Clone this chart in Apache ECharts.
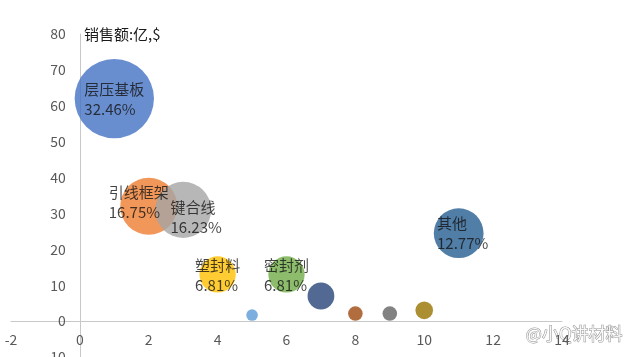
<!DOCTYPE html>
<html>
<head>
<meta charset="utf-8">
<script src="https://cdn.jsdelivr.net/npm/echarts@6/dist/echarts.min.js"></script>
<style>
html,body{margin:0;padding:0;background:#fff;}
#chart{width:635px;height:357px;}
</style>
</head>
<body>
<div id="chart"></div>
<script>
// ---- data ----
const labelNames = ['层压基板', '引线框架', '键合线', '塑封料', '', '密封剂', '', '', '', '', '其他'];
const xValues    = [1, 2, 3, 4, 5, 6, 7, 8, 9, 10, 11];
const yValues    = [62, 32, 31, 13, 1.7, 13, 7, 2.1, 2.1, 3, 24.5];
const shares     = [32.46, 16.75, 16.23, 6.81, 0.7, 6.81, 3.7, 1.1, 1.1, 1.6, 12.77];
const xTicks = [-2, 0, 2, 4, 6, 8, 10, 12, 14];
const yTicks = [-10, 0, 10, 20, 30, 40, 50, 60, 70, 80];
const yAxisName = '销售额:亿,$';

// ---- styles ----
const colors = ['#4472C4', '#ED7D31', '#A5A5A5', '#FFC000', '#5B9BD5', '#70AD47',
                '#264478', '#9E480E', '#636363', '#997300', '#255E91'];
const labelOffsets = { '引线框架': [-10, -4], '键合线': [13, 7], '其他': [4, 0] };
const FONT = '"Noto Sans CJK SC", "Noto Sans", sans-serif';
const W = 635, H = 357;
const GRID = { left: 11, right: 73, top: 34, bottom: 0 };

const data = xValues.map((x, i) => {
  const name = labelNames[i];
  const item = {
    name: name,
    value: [x, yValues[i], shares[i]],
    itemStyle: { color: colors[i], opacity: 0.8 }
  };
  if (name) {
    item.label = {
      show: true,
      position: 'inside',
      offset: labelOffsets[name] || [0, 1],
      formatter: '{a|' + name + '}\n{a|' + shares[i].toFixed(2) + '%}',
      rich: { a: { align: 'left', fontSize: 15, lineHeight: 20, color: '#141414', fontFamily: FONT } }
    };
  } else {
    item.label = { show: false };
  }
  return item;
});

const chart = echarts.init(document.getElementById('chart'), null, { renderer: 'canvas' });
chart.setOption({
  animation: false,
  backgroundColor: '#fff',
  grid: Object.assign({ containLabel: false, outerBoundsMode: 'none' }, GRID),
  xAxis: {
    type: 'value',
    min: xTicks[0], max: xTicks[xTicks.length - 1], interval: 2,
    axisLine: { onZero: false, lineStyle: { color: '#c8c8c8', width: 1 } },
    axisTick: { show: false },
    splitLine: { show: false },
    axisLabel: { color: '#595959', fontSize: 14, margin: 12, fontFamily: FONT, showMinLabel: true, showMaxLabel: true, hideOverlap: false }
  },
  yAxis: {
    type: 'value',
    min: yTicks[0], max: yTicks[yTicks.length - 1], interval: 10,
    name: yAxisName,
    nameLocation: 'end',
    nameGap: 0,
    nameTextStyle: { color: '#1a1a1a', fontSize: 15, fontFamily: FONT, align: 'left', verticalAlign: 'middle', padding: [0, 0, 0, 4] },
    axisLine: { onZero: false, lineStyle: { color: '#c8c8c8', width: 1 } },
    axisTick: { show: false },
    splitLine: { show: false },
    axisLabel: { color: '#595959', fontSize: 14, margin: 14, fontFamily: FONT, showMinLabel: true, showMaxLabel: true, hideOverlap: false }
  },
  series: [{
    type: 'scatter',
    data: data,
    symbol: 'circle',
    symbolSize: function (val) { return Math.sqrt(val[2]) * 13.92; }
  }],
  graphic: [{
    type: 'text',
    right: 12,
    bottom: 14,
    style: {
      text: '@小Q讲材料',
      fill: 'rgba(255,255,255,0.9)',
      stroke: 'rgba(120,120,120,0.8)',
      lineWidth: 1,
      fontSize: 17,
      fontFamily: FONT
    }
  }]
});

// move both axes (line + labels) so they cross at the origin, using the library's scales
const origin = chart.convertToPixel({ gridIndex: 0 }, [0, 0]);
chart.setOption({
  yAxis: { offset: GRID.left - origin[0] },
  xAxis: { offset: origin[1] - (H - GRID.bottom) }
});
</script>
</body>
</html>
